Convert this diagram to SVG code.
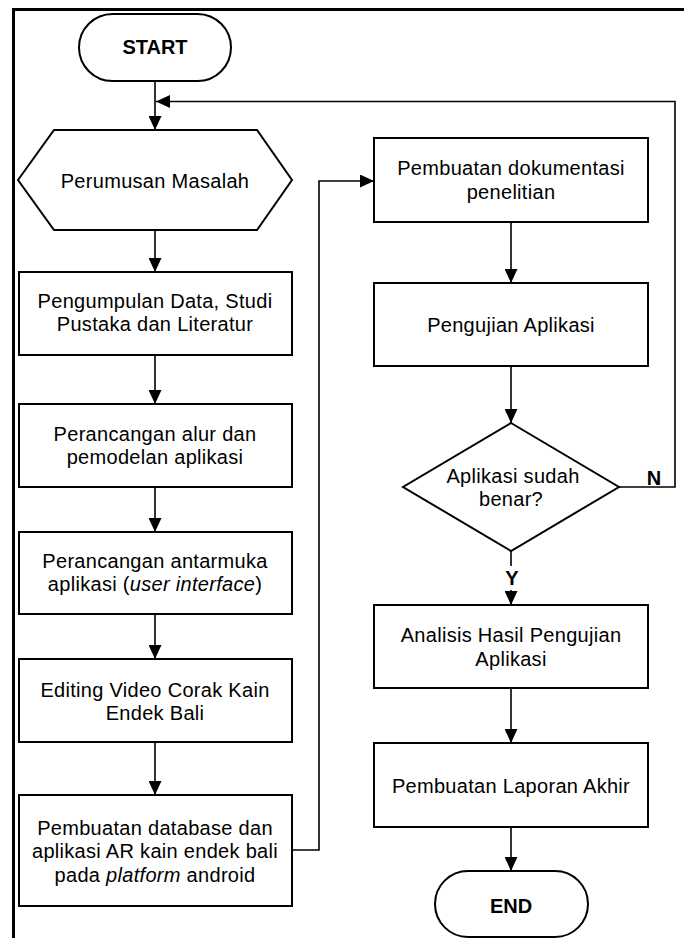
<svg xmlns="http://www.w3.org/2000/svg" width="684" height="938" viewBox="0 0 684 938">
<style>
.shape{fill:#fff;stroke:#000;stroke-width:2}
.conn{fill:none;stroke:#000;stroke-width:1.6}
.t{font-family:"Liberation Sans",Arial,sans-serif;font-size:20px;fill:#000;text-anchor:middle;letter-spacing:0.3px}
.b{font-weight:bold;letter-spacing:0}
.i{font-style:italic}
</style>
<defs>
<marker id="arr" viewBox="0 0 14 13" markerUnits="userSpaceOnUse" markerWidth="14" markerHeight="13" refX="14" refY="6.5" orient="auto">
<path d="M0,0 L14,6.5 L0,13 z" fill="#000"/>
</marker>
</defs>
<rect width="684" height="938" fill="#fff"/>
<g id="frame">
<path d="M13.5,938 V9.5 H684" fill="none" stroke="#000" stroke-width="3"/>
</g>
<g id="connectors">
<line class="conn" x1="155" y1="81" x2="155" y2="130" marker-end="url(#arr)"/>
<line class="conn" x1="155" y1="230" x2="155" y2="272" marker-end="url(#arr)"/>
<line class="conn" x1="155" y1="355" x2="155" y2="404" marker-end="url(#arr)"/>
<line class="conn" x1="155" y1="487" x2="155" y2="532" marker-end="url(#arr)"/>
<line class="conn" x1="155" y1="614" x2="155" y2="659" marker-end="url(#arr)"/>
<line class="conn" x1="155" y1="742" x2="155" y2="795" marker-end="url(#arr)"/>
<polyline class="conn" points="292,850 319,850 319,181 374,181" marker-end="url(#arr)"/>
<line class="conn" x1="511" y1="222" x2="511" y2="283" marker-end="url(#arr)"/>
<line class="conn" x1="511" y1="366" x2="511" y2="423" marker-end="url(#arr)"/>
<line class="conn" x1="511" y1="551" x2="511" y2="605" marker-end="url(#arr)"/>
<polyline class="conn" points="619,487 675,487 675,101.5 156,101.5" marker-end="url(#arr)"/>
<line class="conn" x1="511" y1="688" x2="511" y2="743" marker-end="url(#arr)"/>
<line class="conn" x1="511" y1="827" x2="511" y2="871" marker-end="url(#arr)"/>
<rect x="500" y="566" width="22" height="24" fill="#fff"/>
<text class="t b" x="512" y="585">Y</text>
<text class="t b" x="654" y="485">N</text>
</g>
<g id="start">
<rect class="shape" x="79" y="14" width="152" height="67" rx="33.5"/>
<text class="t b" x="155" y="54">START</text>
</g>
<g id="perumusan">
<polygon class="shape" points="18,180 54,130 257,130 292,180 257,230 54,230"/>
<text class="t" x="155" y="188">Perumusan Masalah</text>
</g>
<g id="pengumpulan">
<rect class="shape" x="19" y="272" width="273" height="83"/>
<text class="t" x="155" y="308">Pengumpulan Data, Studi</text>
<text class="t" x="155" y="331">Pustaka dan Literatur</text>
</g>
<g id="perancangan-alur">
<rect class="shape" x="19" y="404" width="273" height="83"/>
<text class="t" x="155" y="441">Perancangan alur dan</text>
<text class="t" x="155" y="464">pemodelan aplikasi</text>
</g>
<g id="perancangan-antarmuka">
<rect class="shape" x="19" y="532" width="273" height="82"/>
<text class="t" x="155" y="568">Perancangan antarmuka</text>
<text class="t" x="155" y="591">aplikasi (<tspan class="i">user interface</tspan>)</text>
</g>
<g id="editing">
<rect class="shape" x="19" y="659" width="273" height="83"/>
<text class="t" x="155" y="697">Editing Video Corak Kain</text>
<text class="t" x="155" y="720">Endek Bali</text>
</g>
<g id="pembuatan-database">
<rect class="shape" x="19" y="795" width="273" height="111"/>
<text class="t" x="155" y="835">Pembuatan database dan</text>
<text class="t" x="155" y="858">aplikasi AR kain endek bali</text>
<text class="t" x="155" y="882">pada <tspan class="i">platform</tspan> android</text>
</g>
<g id="dokumentasi">
<rect class="shape" x="374" y="138" width="274" height="84"/>
<text class="t" x="511" y="175">Pembuatan dokumentasi</text>
<text class="t" x="511" y="199">penelitian</text>
</g>
<g id="pengujian">
<rect class="shape" x="374" y="283" width="274" height="83"/>
<text class="t" x="511" y="332">Pengujian Aplikasi</text>
</g>
<g id="keputusan">
<polygon class="shape" points="511,423 619,487 511,551 403,487"/>
<text class="t" x="513" y="483">Aplikasi sudah</text>
<text class="t" x="511" y="506">benar?</text>
</g>
<g id="analisis">
<rect class="shape" x="374" y="605" width="274" height="83"/>
<text class="t" x="511" y="642">Analisis Hasil Pengujian</text>
<text class="t" x="511" y="666">Aplikasi</text>
</g>
<g id="laporan">
<rect class="shape" x="374" y="743" width="274" height="84"/>
<text class="t" x="511" y="793">Pembuatan Laporan Akhir</text>
</g>
<g id="end">
<rect class="shape" x="435" y="871" width="153" height="66" rx="33"/>
<text class="t b" x="511" y="913">END</text>
</g>
</svg>
